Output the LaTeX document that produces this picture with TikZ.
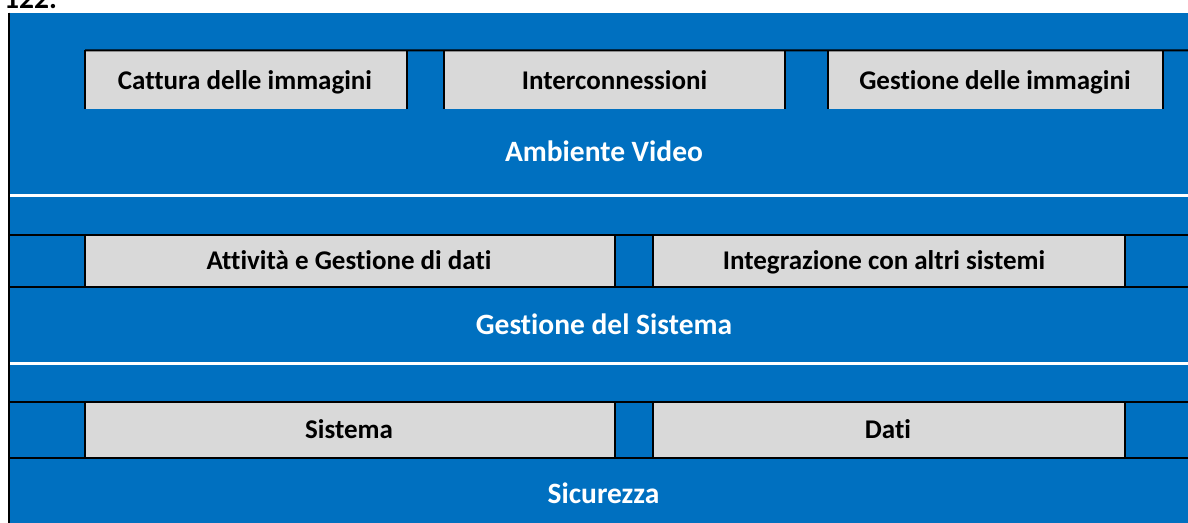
\documentclass[tikz,border=0pt]{standalone}
\usepackage{fontspec}
\setmainfont{Carlito}[Ligatures={NoCommon,NoContextual}]
\usetikzlibrary{fit}
\definecolor{cblue}{HTML}{0070C0}
\definecolor{cgray}{HTML}{D9D9D9}
\begin{document}
\begin{tikzpicture}[x=1bp,y=-1bp,
  cellg/.style={fill=cgray, draw=none, inner sep=0pt, outer sep=0pt},
  itemtxt/.style={anchor=base, inner sep=0pt, text=black, font=\fontsize{27.1pt}{32pt}\selectfont\bfseries},
  titletxt/.style={anchor=base, inner sep=0pt, text=white, font=\fontsize{29.6pt}{35pt}\selectfont\bfseries},
  brule/.style={line width=2bp, black},
  wrule/.style={line width=2.6bp, white}]
\useasboundingbox (0,0) rectangle (1188,523);
% background
\fill[cblue] (9,12.7) rectangle (1188,523);
% heading number (cut off at top)
\node[anchor=base west, inner sep=0pt, font=\fontsize{29.6pt}{35pt}\selectfont\bfseries] (num) at (4,8.3) {122.};
% gray cells
\node[cellg, fit={(85,50.3) (407,109.3)}] (c1) {};
\node[cellg, fit={(444.3,50.3) (785,109.3)}] (c2) {};
\node[cellg, fit={(827.7,50.3) (1163.3,109.3)}] (c3) {};
\node[cellg, fit={(85,234.7) (615,286.7)}] (d1) {};
\node[cellg, fit={(653,234.7) (1125,286.7)}] (d2) {};
\node[cellg, fit={(85,401.7) (615,457.7)}] (e1) {};
\node[cellg, fit={(653,401.7) (1125,457.7)}] (e2) {};
% anchors for full-width rules
\coordinate (L1) at (9,195.3);   \coordinate (R1) at (1188,195.3);
\coordinate (L2) at (9,363.3);   \coordinate (R2) at (1188,363.3);
\coordinate (Rtop) at (1188,50.3);
\coordinate (La) at (9,234.7);   \coordinate (Ra) at (1188,234.7);
\coordinate (Lb) at (9,286.7);   \coordinate (Rb) at (1188,286.7);
\coordinate (Lc) at (9,401.7);   \coordinate (Rc) at (1188,401.7);
\coordinate (Ld) at (9,457.7);   \coordinate (Rd) at (1188,457.7);
\coordinate (T0) at (9,12.7);    \coordinate (B0) at (9,523);
% white separators
\draw[wrule] (L1) -- (R1);
\draw[wrule] (L2) -- (R2);
% black rules
\draw[brule] (c1.north west) -- (Rtop);
\foreach \c in {c1,c2,c3} {
  \draw[brule] (\c.north west) -- (\c.south west);
  \draw[brule] (\c.north east) -- (\c.south east);
}
\draw[brule] (La) -- (Ra);
\draw[brule] (Lb) -- (Rb);
\draw[brule] (Lc) -- (Rc);
\draw[brule] (Ld) -- (Rd);
\foreach \c in {d1,d2,e1,e2} {
  \draw[brule] (\c.north west) -- (\c.south west);
  \draw[brule] (\c.north east) -- (\c.south east);
}
\draw[brule] (T0) -- (B0);
% texts
\node[itemtxt] (t1) at (245,89.3) {Cattura delle immagini};
\node[itemtxt] (t2) at (614.5,89.3) {Interconnessioni};
\node[itemtxt] (t3) at (995,89.3) {Gestione delle immagini};
\node[titletxt] (h1) at (604,161.7) {Ambiente Video};
\node[itemtxt] (t4) at (349,270) {Attività e Gestione di dati};
\node[itemtxt] (t5) at (884,269.3) {Integrazione con altri sistemi};
\node[titletxt] (h2) at (604,334.3) {Gestione del Sistema};
\node[itemtxt] (t6) at (349,438.3) {Sistema};
\node[itemtxt] (t7) at (888,438.3) {Dati};
\node[titletxt] (h3) at (603.5,503.3) {Sicurezza};
\end{tikzpicture}
\end{document}
